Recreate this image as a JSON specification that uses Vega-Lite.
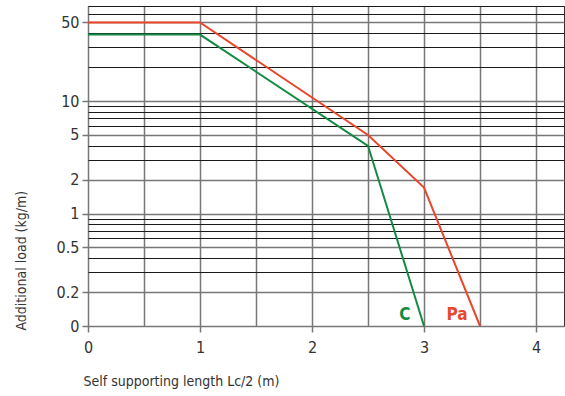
{
  "$schema": "https://vega.github.io/schema/vega-lite/v6.json",
  "width": 476,
  "height": 320,
  "autosize": {"type": "none"},
  "padding": {"left": 88, "top": 6, "right": 1, "bottom": 70},
  "background": "white",
  "config": {
    "view": {"stroke": "#333", "strokeWidth": 1},
    "font": "'DejaVu Sans Condensed', Roboto, sans-serif"
  },
  "datasets": {
    "lines": [
      {"x": 0, "y": 39, "series": "C"},
      {"x": 1, "y": 39, "series": "C"},
      {"x": 2.5, "y": 4, "series": "C"},
      {"x": 3, "y": 0.1, "series": "C"},
      {"x": 0, "y": 50, "series": "Pa"},
      {"x": 1, "y": 50, "series": "Pa"},
      {"x": 2.5, "y": 5, "series": "Pa"},
      {"x": 3, "y": 1.7, "series": "Pa"},
      {"x": 3.5, "y": 0.1, "series": "Pa"}
    ],
    "labels": [
      {"x": 2.83, "y": 0.124, "series": "C", "label": "C"},
      {"x": 3.295, "y": 0.124, "series": "Pa", "label": "Pa"}
    ]
  },
  "layer": [
    {
      "data": {"name": "lines"},
      "mark": {"type": "line", "strokeWidth": 2},
      "encoding": {
        "x": {
          "field": "x", "type": "quantitative",
          "scale": {"domain": [0, 4.25], "nice": false, "zero": false},
          "axis": {
            "values": [0, 0.5, 1, 1.5, 2, 2.5, 3, 3.5, 4],
            "labelExpr": "datum.value % 1 == 0 ? '' + datum.value : ''",
            "grid": true,
            "gridColor": "#777",
            "gridWidth": 1.5,
            "gridOpacity": 1,
            "domain": false,
            "ticks": true,
            "tickSize": 6,
            "tickColor": "#777",
            "tickWidth": 1.5,
            "tickOpacity": {"condition": {"test": "datum.value % 1 == 0", "value": 1}, "value": 0},
            "labelFontSize": 16,
            "labelColor": "#333",
            "labelPadding": 7,
            "labelFont": "'DejaVu Sans Condensed', Roboto, sans-serif",
            "labelFlush": false,
            "title": "Self supporting length Lc/2 (m)",
            "titleFont": "'DejaVu Sans Condensed', Roboto, sans-serif",
            "titleFontSize": 14,
            "titleFontWeight": "normal",
            "titleColor": "#333",
            "titleAlign": "left",
            "titleBaseline": "middle",
            "titleX": -5,
            "titleY": 55
          }
        },
        "y": {
          "field": "y", "type": "quantitative",
          "scale": {"type": "log", "domain": [0.1, 70], "nice": false},
          "axis": {
            "values": [0.1, 0.2, 0.3, 0.4, 0.5, 0.6, 0.7, 0.8, 0.9, 1, 2, 3, 4, 5, 6, 7, 8, 9, 10, 20, 30, 40, 50, 60, 70],
            "labelExpr": "datum.value == 0.1 ? '0' : (indexof([0.2, 0.5, 1, 2, 5, 10, 50], datum.value) >= 0 ? '' + datum.value : '')",
            "grid": true,
            "gridColor": {"condition": {"test": "indexof([0.1, 0.2, 0.5, 1, 2, 5, 10, 50], datum.value) >= 0", "value": "#777"}, "value": "#1a1a1a"},
            "gridWidth": {"condition": {"test": "indexof([0.1, 0.2, 0.5, 1, 2, 5, 10, 50], datum.value) >= 0", "value": 1.5}, "value": 1},
            "gridOpacity": 1,
            "domain": false,
            "ticks": true,
            "tickSize": 6,
            "tickColor": "#777",
            "tickWidth": 1.5,
            "tickOpacity": {"condition": {"test": "indexof([0.1, 0.2, 0.5, 1, 2, 5, 10, 50], datum.value) >= 0", "value": 1}, "value": 0},
            "labelFontSize": 16,
            "labelColor": "#333",
            "labelPadding": 3,
            "labelFont": "'DejaVu Sans Condensed', Roboto, sans-serif",
            "labelOverlap": false,
            "labelFlush": false,
            "title": "Additional load (kg/m)",
            "titleFont": "'DejaVu Sans Condensed', Roboto, sans-serif",
            "titleFontSize": 14,
            "titleFontWeight": "normal",
            "titleColor": "#333",
            "titleAngle": -90,
            "titleAlign": "left",
            "titleBaseline": "middle",
            "titleX": -67,
            "titleY": 324
          }
        },
        "color": {
          "field": "series", "type": "nominal",
          "scale": {"domain": ["C", "Pa"], "range": ["#138a43", "#e8472b"]},
          "legend": null
        }
      }
    },
    {
      "data": {"name": "labels"},
      "mark": {"type": "text", "fontSize": 17, "fontWeight": "bold", "font": "'DejaVu Sans Condensed', Roboto, sans-serif", "baseline": "middle", "align": "center"},
      "encoding": {
        "x": {"field": "x", "type": "quantitative"},
        "y": {"field": "y", "type": "quantitative"},
        "text": {"field": "label"},
        "color": {"field": "series", "type": "nominal", "legend": null}
      }
    }
  ]
}
